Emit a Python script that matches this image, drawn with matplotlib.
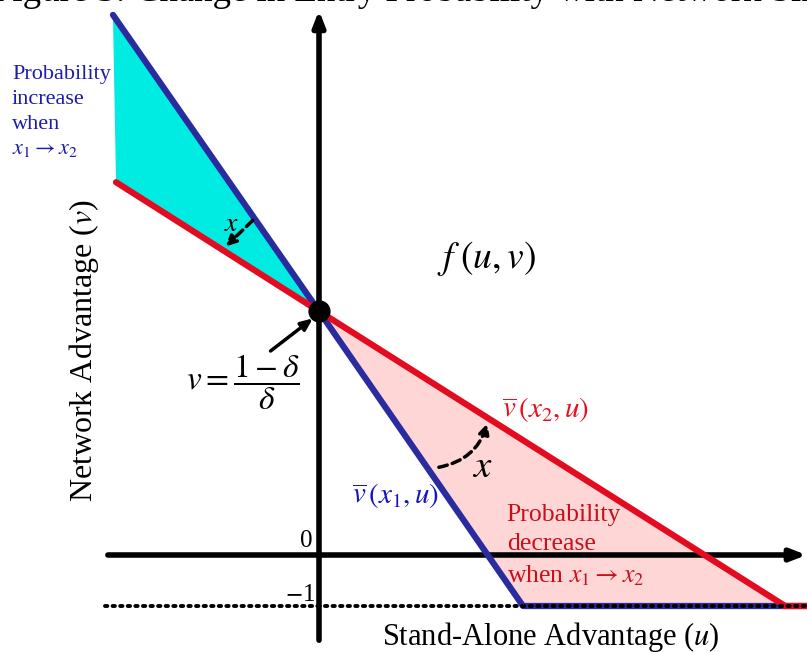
import numpy as np
import matplotlib.pyplot as plt
from matplotlib.patches import Polygon

plt.rcParams['font.family'] = ['Liberation Serif', 'DejaVu Serif']
plt.rcParams['mathtext.fontset'] = 'stix'

# threshold curves v_bar(x, u) for the two network sizes
v_star = 4.78          # v = (1 - delta) / delta, where both curves cross
blue_u = [-4.04, 0.0, 4.0, 9.6]
blue_v = [10.59, v_star, -1.0, -1.0]
red_u = [-3.98, 0.0, 9.14, 9.6]
red_v = [7.31, v_star, -1.0, -1.0]

# shaded regions
up_region = [(-4.04, 10.59), (-3.98, 7.31), (0.0, v_star)]
down_region = [(0.0, v_star), (9.14, -1.0), (4.0, -1.0)]

BLUE = '#2b2ba0'
RED = '#e30b1f'
CYAN = '#00ebe2'
PINK = '#ffd6d6'

fig = plt.figure(figsize=(8.07, 6.52), dpi=100)
ax = fig.add_axes([0, 0, 1, 1])
s = 51.0  # pixels per unit
ax.set_xlim(-319 / s, (807 - 319) / s)
ax.set_ylim((555 - 652) / s, 555 / s)
ax.axis('off')

ax.add_patch(Polygon(up_region, closed=True, facecolor=CYAN, edgecolor='none', zorder=1))
ax.add_patch(Polygon(down_region, closed=True, facecolor=PINK, edgecolor='none', zorder=1))

# axes with arrow heads
ax.annotate('', xy=(9.56, 0), xytext=(-4.14, 0), annotation_clip=False,
            arrowprops=dict(arrowstyle='-|>,head_length=0.9,head_width=0.35',
                            lw=4, color='black', shrinkA=0, shrinkB=0), zorder=2)
ax.annotate('', xy=(0, 10.68), xytext=(0, -1.67), annotation_clip=False,
            arrowprops=dict(arrowstyle='-|>,head_length=0.9,head_width=0.35',
                            lw=4, color='black', shrinkA=0, shrinkB=0), zorder=2)

ax.plot(blue_u, blue_v, color=BLUE, lw=4.5, solid_capstyle='round', zorder=3)
ax.plot(red_u[:3], red_v[:3], color=RED, lw=4.5, solid_capstyle='round', zorder=4)
ax.plot(red_u[2:], red_v[2:], color=RED, lw=4.5, zorder=3)

# v = -1 floor
ax.plot([-4.2, 9.6], [-1, -1], color='black', lw=2.8, ls=(0, (0.6, 1.35)),
        dash_capstyle='round', zorder=5)

ax.plot([0], [v_star], 'o', color='black', ms=15, zorder=6)

ax.text(-6.41, 10.86, 'Figure 3: Change in Entry Probability with Network Size',
        fontsize=26.5, va='baseline', ha='left', color='black')

ax.text(-6.02, 9.6, 'Probability\nincrease\nwhen\n$x_1 \\rightarrow x_2$',
        fontsize=16, color='#1c1cab', va='top', ha='left', linespacing=1.42)

ax.text(3.68, 1.0, 'Probability\ndecrease\nwhen $x_1 \\rightarrow x_2$',
        fontsize=18.5, color='#c8101c', va='top', ha='left', linespacing=1.42)

ax.text(3.29, 5.82, '$f\\;\\left(u,v\\right)$', fontsize=27, ha='center', va='center')

ax.text(-1.5, 3.39, '$v=\\dfrac{1-\\delta}{\\delta}$', fontsize=24, ha='center', va='center')
ax.annotate('', xy=(-0.12, v_star - 0.14), xytext=(-0.95, 4.0),
            arrowprops=dict(arrowstyle='-|>,head_length=0.7,head_width=0.3',
                            lw=2.5, color='black', shrinkA=0, shrinkB=0), zorder=6)

ax.text(4.43, 2.84, '$\\overline{v}\\,\\left(x_2,u\\right)$', fontsize=21, color='#e8101e',
        ha='center', va='center')
ax.text(1.49, 1.14, '$\\overline{v}\\,\\left(x_1,u\\right)$', fontsize=21, color='#1515c0',
        ha='center', va='center')

# dashed shift arrows
ax.text(-1.72, 6.48, '$x$', fontsize=20, ha='center', va='center')
ax.annotate('', xy=(-1.83, 6.05), xytext=(-1.3, 6.56),
            arrowprops=dict(arrowstyle='-|>,head_length=0.6,head_width=0.3',
                            lw=2.5, ls=(0, (2.5, 1.5)), color='black',
                            shrinkA=0, shrinkB=0), zorder=6)

ax.text(3.2, 1.72, '$x$', fontsize=28, ha='center', va='center')
ax.annotate('', xy=(3.3, 2.58), xytext=(2.35, 1.72),
            arrowprops=dict(arrowstyle='-|>,head_length=0.6,head_width=0.3',
                            lw=2.5, ls=(0, (2.5, 1.5)), color='black',
                            connectionstyle='arc3,rad=0.3',
                            shrinkA=0, shrinkB=0), zorder=6)

ax.text(-0.12, 0.05, '0', fontsize=18, ha='right', va='bottom')
ax.text(-0.08, -1.0, '$-$1', fontsize=18, ha='right', va='bottom')

ax.text(-4.6, 4.0, 'Network Advantage ($v$)', fontsize=23, rotation=90,
        ha='center', va='center')
ax.text(4.55, -1.6, 'Stand-Alone Advantage ($u$)', fontsize=22,
        ha='center', va='center')

fig.savefig('out.png', dpi=100)
